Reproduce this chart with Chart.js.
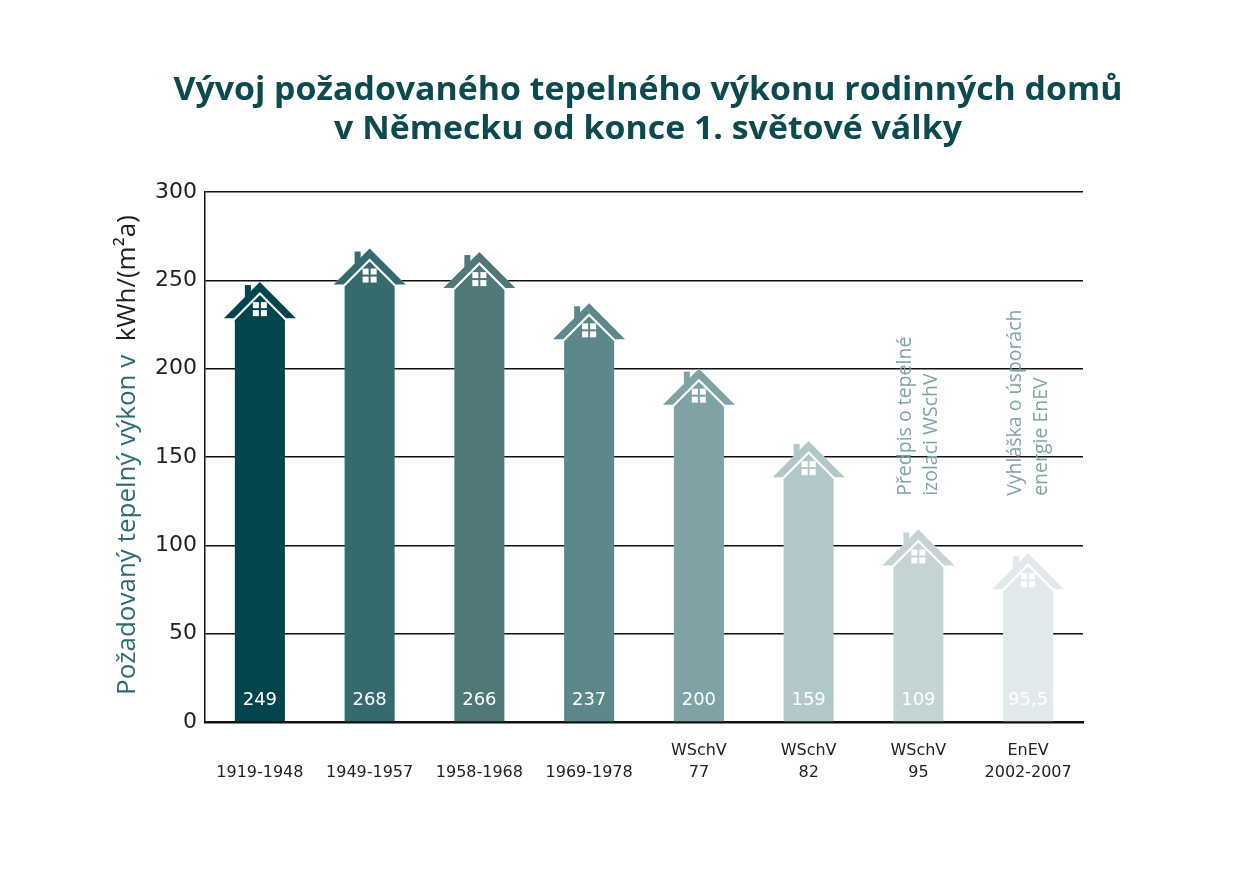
<!DOCTYPE html>
<html>
<head>
<meta charset="utf-8">
<script src="https://cdn.jsdelivr.net/npm/chart.js@4.4.1/dist/chart.umd.min.js"></script>
<style>
  html, body { margin: 0; padding: 0; background: #fff; }
  canvas { display: block; }
</style>
</head>
<body>
<canvas id="houseChart" width="1235" height="875"></canvas>
<script>
// data
const categories = [['', '1919-1948'], ['', '1949-1957'], ['', '1958-1968'], ['', '1969-1978'],
    ['WSchV', '77'], ['WSchV', '82'], ['WSchV', '95'], ['EnEV', '2002-2007']];
const values = [249, 268, 266, 237, 200, 159, 109, 95.5];
const valueLabels = ['249', '268', '266', '237', '200', '159', '109', '95,5'];
const barColors = ['#03454c', '#356b6e', '#517879', '#5d888b', '#7fa3a5', '#b2c7ca', '#c4d3d4', '#e1e9ea'];
const yTicks = [0, 50, 100, 150, 200, 250, 300];
const titleLines = ['Vývoj požadovaného tepelného výkonu rodinných domů', 'v Německu od konce 1. světové války'];
const yTitleParts = ['Požadovaný tepelný výkon v  ', 'kWh/(m²a)'];
// rotated notes: [category index, value where text starts, lines]
const notes = [
    [6, 128, ['Předpis o tepelné', 'izolaci WSchV']],
    [7, 128, ['Vyhláška o úsporách', 'energie EnEV']]
];

function drawHouse(ctx, cx, P, base, s, color) {
    // white backing under the roof (hides grid lines in the gap)
    ctx.fillStyle = '#fff';
    ctx.beginPath();
    ctx.moveTo(cx - 36 * s, P + 36 * s);
    ctx.lineTo(cx, P);
    ctx.lineTo(cx + 36 * s, P + 36 * s);
    ctx.closePath();
    ctx.fill();

    ctx.fillStyle = color;
    // chimney
    ctx.fillRect(cx - 15 * s, P + 3 * s, 6 * s, 12 * s);
    // roof
    ctx.beginPath();
    ctx.moveTo(cx - 36 * s, P + 36 * s);
    ctx.lineTo(cx, P);
    ctx.lineTo(cx + 36 * s, P + 36 * s);
    ctx.lineTo(cx + 26 * s, P + 36 * s);
    ctx.lineTo(cx, P + 10 * s);
    ctx.lineTo(cx - 26 * s, P + 36 * s);
    ctx.closePath();
    ctx.fill();
    // body
    ctx.beginPath();
    ctx.moveTo(cx - 25 * s, base);
    ctx.lineTo(cx - 25 * s, P + 38 * s);
    ctx.lineTo(cx, P + 13 * s);
    ctx.lineTo(cx + 25 * s, P + 38 * s);
    ctx.lineTo(cx + 25 * s, base);
    ctx.closePath();
    ctx.fill();
    // window
    ctx.fillStyle = '#fff';
    [[-7, 20], [1, 20], [-7, 28], [1, 28]].forEach(([dx, dy]) => {
        ctx.fillRect(cx + dx * s, P + dy * s, 6 * s, 6 * s);
    });
}

const housePlugin = {
    id: 'houses',
    afterDatasetsDraw(chart) {
        const ctx = chart.ctx;
        const meta = chart.getDatasetMeta(0);
        ctx.save();
        meta.data.forEach((el, i) => {
            const s = el.width / 50;
            drawHouse(ctx, el.x, el.y, el.base, s, barColors[i]);
            ctx.fillStyle = '#ffffff';
            ctx.font = "18px 'DejaVu Sans'";
            ctx.textAlign = 'center';
            ctx.textBaseline = 'alphabetic';
            ctx.fillText(valueLabels[i], el.x, el.base - 16);
        });
        ctx.restore();
    },
    afterDraw(chart) {
        const ctx = chart.ctx;
        const xs = chart.scales.x, ys = chart.scales.y;
        ctx.save();

        // title
        ctx.fillStyle = '#0d4a50';
        ctx.font = "bold 32px 'Open Sans'";
        ctx.textAlign = 'center';
        ctx.textBaseline = 'alphabetic';
        const w1 = ctx.measureText(titleLines[0]).width;
        const k = Math.max(0.8, Math.min(1.1, 949 / w1));
        [[titleLines[0], 100], [titleLines[1], 139]].forEach(([t, y]) => {
            ctx.save();
            ctx.translate(648, y);
            ctx.scale(k, 1);
            ctx.fillText(t, 0, 0);
            ctx.restore();
        });

        // y axis title in two colours
        ctx.save();
        ctx.translate(128, 695);
        ctx.rotate(-Math.PI / 2);
        ctx.font = "26px 'Open Sans'";
        ctx.textAlign = 'left';
        ctx.textBaseline = 'middle';
        ctx.fillStyle = '#2e6b70';
        ctx.fillText(yTitleParts[0], 0, 0);
        const wp = ctx.measureText(yTitleParts[0]).width;
        ctx.fillStyle = '#1e1e1e';
        ctx.fillText(yTitleParts[1], wp, 0);
        ctx.restore();

        // rotated notes
        ctx.font = "19.5px 'Open Sans'";
        ctx.fillStyle = '#7fa3a6';
        ctx.textAlign = 'left';
        ctx.textBaseline = 'middle';
        notes.forEach(([idx, v, lines]) => {
            const cx = xs.getPixelForValue(idx);
            const y0 = ys.getPixelForValue(v);
            lines.forEach((t, j) => {
                ctx.save();
                ctx.translate(cx - 13 + j * 26, y0);
                ctx.rotate(-Math.PI / 2);
                ctx.fillText(t, 0, 0);
                ctx.restore();
            });
        });
        ctx.restore();
    }
};

new Chart(document.getElementById('houseChart'), {
    type: 'bar',
    data: {
        labels: categories,
        datasets: [{
            data: values,
            backgroundColor: 'rgba(0,0,0,0)',
            borderWidth: 0,
            categoryPercentage: 1,
            barPercentage: 0.456
        }]
    },
    options: {
        responsive: false,
        animation: false,
        devicePixelRatio: 1,
        layout: { padding: { left: 0, top: 192, right: 152, bottom: 0 } },
        plugins: {
            legend: { display: false },
            tooltip: { enabled: false }
        },
        scales: {
            x: {
                grid: { display: false },
                border: { display: true, color: '#111', width: 2.5 },
                ticks: {
                    color: '#222',
                    font: { family: "'DejaVu Sans'", size: 16, lineHeight: 1.375 },
                    padding: 10,
                    maxRotation: 0,
                    autoSkip: false
                },
                afterFit(scale) { scale.height = 153; }
            },
            y: {
                min: 0,
                max: 300,
                afterBuildTicks(scale) { scale.ticks = yTicks.map(v => ({ value: v })); },
                grid: { color: '#111', lineWidth: 1.5, drawTicks: false },
                border: { display: true, color: '#111', width: 1.5 },
                ticks: {
                    color: '#222',
                    font: { family: "'DejaVu Sans'", size: 22 },
                    padding: 8
                },
                afterFit(scale) { scale.width = 205; }
            }
        }
    },
    plugins: [housePlugin]
});
</script>
</body>
</html>
